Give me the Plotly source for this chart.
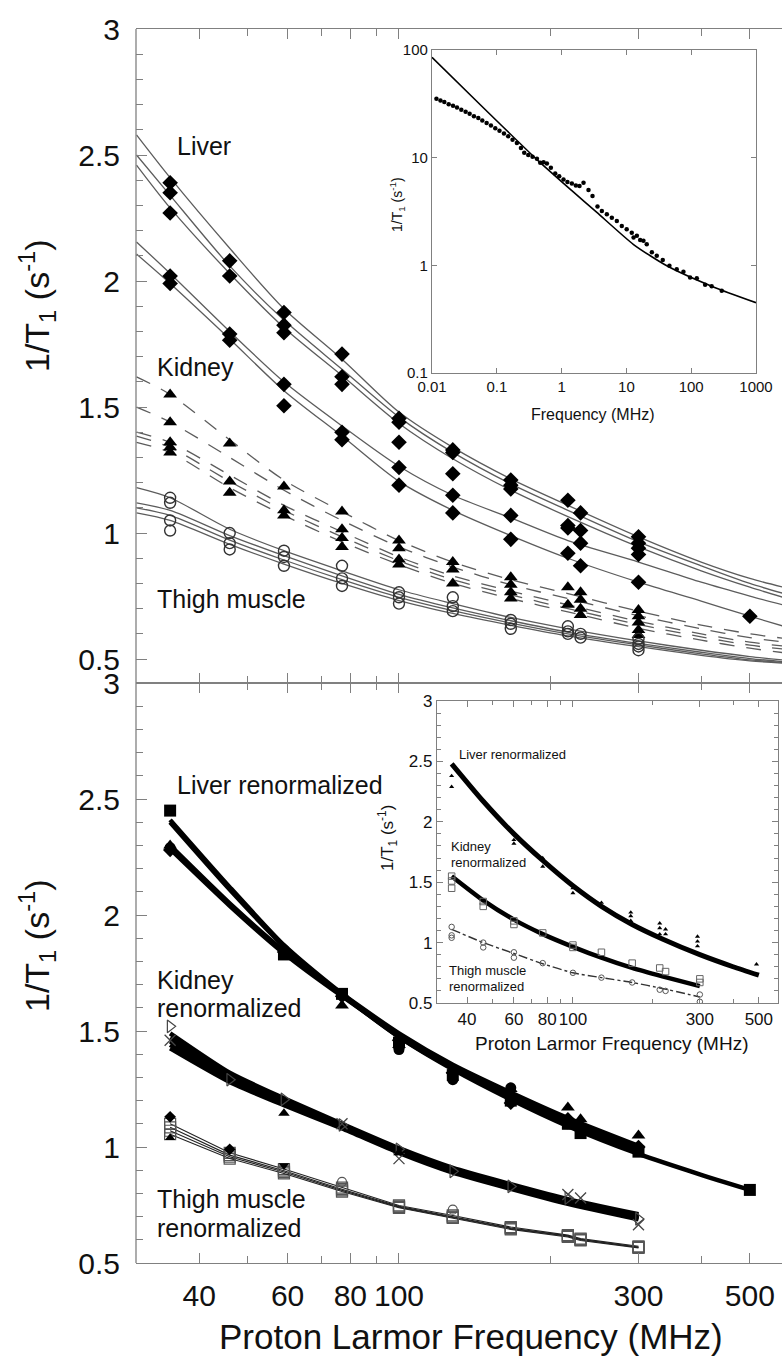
import math
import plotly.graph_objects as go

W, H = 782, 1357

# ---------------- upper panel: measured 1/T1 of tissues ----------------
FIT_F = [30, 35, 46, 59, 77, 100, 128, 167, 217, 300, 400, 500, 580]

LIVER_FIT_1 = [2.58, 2.41, 2.13, 1.89, 1.69, 1.48, 1.34, 1.215, 1.11, 0.985, 0.885, 0.82, 0.786]
LIVER_FIT_2 = [2.50, 2.34, 2.06, 1.845, 1.65, 1.46, 1.32, 1.195, 1.09, 0.965, 0.87, 0.80, 0.762]
LIVER_FIT_3 = [2.46, 2.29, 2.03, 1.815, 1.625, 1.435, 1.295, 1.17, 1.065, 0.945, 0.85, 0.785, 0.746]
LIVER_FIT_4 = [2.155, 2.03, 1.80, 1.60, 1.425, 1.265, 1.15, 1.06, 0.97, 0.885, 0.805, 0.75, 0.716]
LIVER_FIT_5 = [2.107, 1.99, 1.77, 1.565, 1.385, 1.205, 1.09, 0.99, 0.90, 0.805, 0.73, 0.67, 0.632]

KIDNEY_FIT_1 = [1.62, 1.55, 1.37, 1.21, 1.085, 0.97, 0.885, 0.815, 0.76, 0.69, 0.635, 0.60, 0.583]
KIDNEY_FIT_2 = [1.50, 1.44, 1.30, 1.17, 1.05, 0.945, 0.865, 0.795, 0.74, 0.672, 0.62, 0.585, 0.568]
KIDNEY_FIT_3 = [1.40, 1.36, 1.23, 1.11, 1.005, 0.905, 0.83, 0.77, 0.715, 0.65, 0.60, 0.567, 0.552]
KIDNEY_FIT_4 = [1.385, 1.34, 1.205, 1.09, 0.985, 0.89, 0.815, 0.755, 0.70, 0.637, 0.588, 0.555, 0.54]
KIDNEY_FIT_5 = [1.36, 1.32, 1.18, 1.07, 0.965, 0.875, 0.80, 0.74, 0.687, 0.622, 0.575, 0.543, 0.526]

THIGH_FIT_1 = [1.18, 1.14, 1.015, 0.93, 0.85, 0.775, 0.72, 0.665, 0.62, 0.572, 0.535, 0.51, 0.497]
THIGH_FIT_2 = [1.12, 1.09, 0.99, 0.91, 0.83, 0.757, 0.703, 0.652, 0.607, 0.562, 0.527, 0.502, 0.49]
THIGH_FIT_3 = [1.10, 1.07, 0.972, 0.893, 0.815, 0.745, 0.692, 0.643, 0.60, 0.556, 0.521, 0.497, 0.487]
THIGH_FIT_4 = [1.08, 1.05, 0.955, 0.877, 0.80, 0.732, 0.681, 0.634, 0.592, 0.549, 0.515, 0.493, 0.484]

LIVER_F = [35] * 5 + [46] * 4 + [59] * 5 + [77] * 5 + [100] * 5 + [128] * 5 + [167] * 5 + [217] * 4 + [230] * 4 + [300] * 5 + [500]
LIVER_R1 = [2.39, 2.35, 2.27, 2.02, 1.99,
            2.08, 2.02, 1.79, 1.765,
            1.875, 1.825, 1.795, 1.59, 1.505,
            1.71, 1.62, 1.59, 1.40, 1.37,
            1.455, 1.44, 1.36, 1.26, 1.19,
            1.33, 1.32, 1.235, 1.15, 1.08,
            1.21, 1.19, 1.175, 1.07, 0.975,
            1.13, 1.03, 1.02, 0.92,
            1.08, 1.01, 0.96, 0.87,
            0.985, 0.96, 0.94, 0.915, 0.805,
            0.67]

KIDNEY_F = [35] * 5 + [46] * 3 + [59] * 3 + [77] * 4 + [100] * 4 + [128] * 3 + [167] * 4 + [217] * 2 + [230] * 4 + [300] * 5
KIDNEY_R1 = [1.55, 1.44, 1.36, 1.34, 1.32,
             1.355, 1.205, 1.16,
             1.185, 1.09, 1.07,
             1.085, 1.015, 0.98, 0.945,
             0.97, 0.94, 0.895, 0.875,
             0.885, 0.855, 0.80,
             0.825, 0.795, 0.765, 0.74,
             0.785, 0.715,
             0.765, 0.735, 0.70, 0.675,
             0.695, 0.67, 0.645, 0.615, 0.595]

THIGH_F = [35] * 4 + [46] * 3 + [59] * 3 + [77] * 3 + [100] * 3 + [128] * 3 + [167] * 3 + [217] * 3 + [230] * 2 + [300] * 4
THIGH_R1 = [1.14, 1.12, 1.05, 1.01,
            1.0, 0.96, 0.935,
            0.93, 0.905, 0.87,
            0.87, 0.82, 0.79,
            0.765, 0.745, 0.72,
            0.745, 0.71, 0.69,
            0.655, 0.64, 0.62,
            0.63, 0.61, 0.60,
            0.60, 0.585,
            0.58, 0.56, 0.55, 0.535]

# dispersion inset (log-log)
DISP_LINE_F = [0.01, 0.0556, 0.416, 1.44, 3.5, 12.9, 42, 220, 1000]
DISP_LINE_R1 = [85.5, 31.0, 9.6, 4.94, 3.1, 1.56, 0.99, 0.63, 0.45]
DISP_F = [0.0117, 0.0135, 0.0155, 0.0181, 0.0211, 0.0243, 0.0283, 0.033, 0.0381, 0.0444,
          0.0518, 0.0597, 0.0697, 0.0812, 0.0947, 0.110, 0.129, 0.150, 0.175, 0.204,
          0.236, 0.265, 0.306, 0.356, 0.416, 0.468, 0.527, 0.593, 0.683, 0.797,
          0.918, 1.07, 1.23, 1.44, 1.66, 1.89, 2.18, 2.60, 3.00, 3.58,
          4.18, 4.99, 5.96, 7.12, 8.49, 10.1, 12.1, 12.9, 14.5, 16.3,
          18.3, 20.6, 24.7, 29.4, 36.4, 46.1, 59.8, 75.9, 96.1, 122,
          164, 207, 296]
DISP_R1 = [35.2, 34.0, 32.8, 31.4, 30.3, 29.3, 27.9, 26.7, 25.6, 24.2,
           23.3, 22.2, 21.0, 19.9, 18.8, 17.8, 16.8, 15.8, 14.7, 13.7,
           12.3, 11.1, 10.6, 10.2, 9.75, 8.95, 9.08, 8.82, 8.04, 7.13,
           6.73, 6.27, 5.93, 5.76, 5.52, 5.45, 5.84, 5.00, 4.40, 3.51,
           3.19, 2.98, 2.77, 2.58, 2.32, 2.16, 2.01, 1.81, 1.88, 1.72,
           1.69, 1.57, 1.32, 1.23, 1.12, 0.99, 0.92, 0.87, 0.77, 0.76,
           0.66, 0.64, 0.58]

# ---------------- lower panel: renormalized rates ----------------
REN_F = [35, 46, 59, 77, 100, 128, 167, 217, 300, 400, 500]
LIVER_REN_FIT_1 = [2.41, 2.12, 1.87, 1.66, 1.475, 1.335, 1.205, 1.09, 0.97, 0.88, 0.815]
LIVER_REN_FIT_2 = [2.40, 2.11, 1.865, 1.655, 1.475, 1.34, 1.215, 1.10, 0.98]
LIVER_REN_FIT_3 = [2.30, 2.05, 1.845, 1.66, 1.49, 1.355, 1.235, 1.125, 1.005]
LIVER_REN_FIT_4 = [2.285, 2.04, 1.835, 1.65, 1.485, 1.35, 1.23, 1.115, 0.995]

KIDNEY_REN_FIT_1 = [1.49, 1.32, 1.21, 1.10, 0.995, 0.91, 0.84, 0.775, 0.71]
KIDNEY_REN_FIT_2 = [1.47, 1.31, 1.20, 1.095, 0.99, 0.905, 0.835, 0.77, 0.703]
KIDNEY_REN_FIT_3 = [1.455, 1.30, 1.195, 1.09, 0.985, 0.90, 0.83, 0.765, 0.697]
KIDNEY_REN_FIT_4 = [1.44, 1.29, 1.19, 1.085, 0.98, 0.895, 0.825, 0.76, 0.692]
KIDNEY_REN_FIT_5 = [1.425, 1.28, 1.18, 1.08, 0.975, 0.89, 0.82, 0.755, 0.688]

THIGH_REN_F = [35, 46, 59, 77, 100, 128, 167, 217, 230, 300]
THIGH_REN_1 = [1.10, 0.975, 0.905, 0.825, 0.748, 0.705, 0.655, 0.62, 0.605, 0.572]
THIGH_REN_2 = [1.085, 0.965, 0.898, 0.818, 0.744, 0.70, 0.651, 0.617, 0.602, 0.569]
THIGH_REN_3 = [1.07, 0.958, 0.892, 0.813, 0.741, 0.697, 0.648, 0.615, 0.60, 0.567]
THIGH_REN_4 = [1.055, 0.95, 0.886, 0.808, 0.738, 0.694, 0.645, 0.612, 0.597, 0.565]

LREN_SQ_F = [35, 59, 77, 100, 128, 167, 217, 230, 300, 500]
LREN_SQ_R1 = [2.45, 1.83, 1.66, 1.45, 1.31, 1.20, 1.10, 1.06, 0.98, 0.815]
LREN_TRI_F = [35, 77, 100, 128, 167, 217, 230, 300]
LREN_TRI_R1 = [2.30, 1.61, 1.44, 1.33, 1.25, 1.17, 1.12, 1.05]
LREN_CIR_F = [35, 59, 77, 100, 128, 167, 217, 300]
LREN_CIR_R1 = [2.29, 1.85, 1.66, 1.42, 1.29, 1.255, 1.10, 0.99]
LREN_DIA_F = [35, 59, 77, 100, 128, 167, 217, 230, 300]
LREN_DIA_R1 = [2.28, 1.84, 1.65, 1.46, 1.32, 1.19, 1.12, 1.08, 1.0]

KREN_TRI_F = [35, 46, 59, 77, 100, 128, 167, 217, 300]
KREN_TRI_R1 = [1.52, 1.29, 1.205, 1.095, 0.99, 0.895, 0.83, 0.78, 0.69]
KREN_X_F = [35, 77, 100, 217, 230, 300]
KREN_X_R1 = [1.46, 1.10, 0.95, 0.795, 0.78, 0.665]
KREN_FILL_F = [59, 100]
KREN_FILL_R1 = [1.145, 0.975]

TREN_DIA_F = [35, 46]
TREN_DIA_R1 = [1.13, 0.99]
TREN_TRI_F = [35]
TREN_TRI_R1 = [1.04]
TREN_TDN_F = [59]
TREN_TDN_R1 = [0.92]
TREN_CIR_F = [77, 128]
TREN_CIR_R1 = [0.85, 0.73]

# renormalized inset
INS_F = [35, 46, 60, 77, 100, 128, 167, 217, 300, 400, 500]
INS_LIVER = [2.48, 2.17, 1.90, 1.68, 1.47, 1.30, 1.15, 1.03, 0.90, 0.80, 0.73]
INS_KIDNEY = [1.55, 1.35, 1.19, 1.07, 0.965, 0.875, 0.79, 0.72, 0.64]
INS_THIGH = [1.11, 1.0, 0.91, 0.825, 0.75, 0.71, 0.67, 0.62, 0.55]
INS_LIVER_PTS_F = [35, 35, 60, 60, 77, 77, 100, 100, 128, 165, 165, 165, 212, 212, 212, 223, 223, 294, 294, 294, 490]
INS_LIVER_PTS_R1 = [2.38, 2.29, 1.85, 1.82, 1.70, 1.63, 1.45, 1.41, 1.33, 1.25, 1.22, 1.18, 1.16, 1.12, 1.07, 1.11, 1.07, 1.05, 1.01, 0.97, 0.82]
INS_KIDNEY_PTS_F = [35, 35, 35, 46, 46, 60, 60, 77, 100, 100, 128, 167, 212, 223, 300, 300]
INS_KIDNEY_PTS_R1 = [1.55, 1.51, 1.45, 1.34, 1.30, 1.18, 1.15, 1.08, 0.98, 0.96, 0.92, 0.83, 0.79, 0.76, 0.70, 0.67]
INS_THIGH_PTS_F = [35, 35, 35, 46, 46, 60, 60, 77, 100, 128, 167, 212, 223, 300, 300]
INS_THIGH_PTS_R1 = [1.13, 1.06, 1.04, 1.0, 0.96, 0.92, 0.875, 0.83, 0.75, 0.71, 0.67, 0.61, 0.60, 0.57, 0.51]

MAIN_TICKS = [40, 60, 80, 100, 300, 500]
MAIN_MINOR = [50, 70, 90, 200, 400]


def px(x):
    return x / W


def py(y):
    return 1 - y / H


fig = go.Figure()


def add(trace, ax):
    trace.update(xaxis="x" + ax, yaxis="y" + ax, showlegend=False, hoverinfo="skip")
    fig.add_trace(trace)


GREY_LINE = "#5c5c5c"

# upper panel curves
for ys in [LIVER_FIT_1, LIVER_FIT_2, LIVER_FIT_3, LIVER_FIT_4, LIVER_FIT_5,
           THIGH_FIT_1, THIGH_FIT_2, THIGH_FIT_3, THIGH_FIT_4]:
    add(go.Scatter(x=FIT_F, y=ys, mode="lines",
                   line=dict(color=GREY_LINE, width=1.3, shape="spline", smoothing=0.8)), "")
for ys in [KIDNEY_FIT_1, KIDNEY_FIT_2, KIDNEY_FIT_3, KIDNEY_FIT_4, KIDNEY_FIT_5]:
    add(go.Scatter(x=FIT_F, y=ys, mode="lines",
                   line=dict(color=GREY_LINE, width=1.3, dash="15px,12px", shape="spline", smoothing=0.8)), "")

add(go.Scatter(x=LIVER_F, y=LIVER_R1, mode="markers",
               marker=dict(symbol="diamond", size=12, color="black")), "")
add(go.Scatter(x=KIDNEY_F, y=KIDNEY_R1, mode="markers",
               marker=dict(symbol="triangle-up", size=12, color="black")), "")
add(go.Scatter(x=THIGH_F, y=THIGH_R1, mode="markers",
               marker=dict(symbol="circle-open", size=11, color="#333", line=dict(width=1.4))), "")

# lower panel curves
for ys in [LIVER_REN_FIT_1, LIVER_REN_FIT_2, LIVER_REN_FIT_3, LIVER_REN_FIT_4,
           KIDNEY_REN_FIT_1, KIDNEY_REN_FIT_2, KIDNEY_REN_FIT_3, KIDNEY_REN_FIT_4, KIDNEY_REN_FIT_5]:
    add(go.Scatter(x=REN_F[:len(ys)], y=ys, mode="lines",
                   line=dict(color="black", width=4.5, shape="spline", smoothing=0.6)), "2")
for ys in [THIGH_REN_1, THIGH_REN_2, THIGH_REN_3, THIGH_REN_4]:
    add(go.Scatter(x=THIGH_REN_F, y=ys, mode="lines+markers",
                   line=dict(color="#222", width=1.1),
                   marker=dict(symbol="square-open", size=11, color="#555", line=dict(width=1.2))), "2")

add(go.Scatter(x=LREN_SQ_F, y=LREN_SQ_R1, mode="markers",
               marker=dict(symbol="square", size=12, color="black")), "2")
add(go.Scatter(x=LREN_TRI_F, y=LREN_TRI_R1, mode="markers",
               marker=dict(symbol="triangle-up", size=12, color="black")), "2")
add(go.Scatter(x=LREN_CIR_F, y=LREN_CIR_R1, mode="markers",
               marker=dict(symbol="circle", size=11, color="black")), "2")
add(go.Scatter(x=LREN_DIA_F, y=LREN_DIA_R1, mode="markers",
               marker=dict(symbol="diamond", size=11, color="black")), "2")
add(go.Scatter(x=KREN_TRI_F, y=KREN_TRI_R1, mode="markers",
               marker=dict(symbol="triangle-right-open", size=11, color="#444", line=dict(width=1.2))), "2")
add(go.Scatter(x=KREN_X_F, y=KREN_X_R1, mode="markers",
               marker=dict(symbol="x-thin-open", size=11, color="#444", line=dict(width=1.3))), "2")
add(go.Scatter(x=KREN_FILL_F, y=KREN_FILL_R1, mode="markers",
               marker=dict(symbol="triangle-up", size=10, color="black")), "2")
add(go.Scatter(x=TREN_DIA_F, y=TREN_DIA_R1, mode="markers",
               marker=dict(symbol="diamond", size=9, color="black")), "2")
add(go.Scatter(x=TREN_TRI_F, y=TREN_TRI_R1, mode="markers",
               marker=dict(symbol="triangle-up", size=9, color="black")), "2")
add(go.Scatter(x=TREN_TDN_F, y=TREN_TDN_R1, mode="markers",
               marker=dict(symbol="triangle-down", size=9, color="black")), "2")
add(go.Scatter(x=TREN_CIR_F, y=TREN_CIR_R1, mode="markers",
               marker=dict(symbol="circle-open", size=9, color="#555", line=dict(width=1.2))), "2")

# dispersion inset
add(go.Scatter(x=DISP_LINE_F, y=DISP_LINE_R1, mode="lines",
               line=dict(color="black", width=1.6, shape="spline", smoothing=0.6)), "3")
add(go.Scatter(x=DISP_F, y=DISP_R1, mode="markers",
               marker=dict(symbol="circle", size=4.5, color="black")), "3")

# renormalized inset
add(go.Scatter(x=INS_F, y=INS_LIVER, mode="lines",
               line=dict(color="black", width=5, shape="spline", smoothing=0.6)), "4")
add(go.Scatter(x=INS_F[:len(INS_KIDNEY)], y=INS_KIDNEY, mode="lines",
               line=dict(color="black", width=4.5, shape="spline", smoothing=0.6)), "4")
add(go.Scatter(x=INS_F[:len(INS_THIGH)], y=INS_THIGH, mode="lines",
               line=dict(color="#333", width=1.4, dash="dashdot", shape="spline", smoothing=0.6)), "4")
add(go.Scatter(x=INS_LIVER_PTS_F, y=INS_LIVER_PTS_R1, mode="markers",
               marker=dict(symbol="triangle-up", size=4.5, color="black")), "4")
add(go.Scatter(x=INS_KIDNEY_PTS_F, y=INS_KIDNEY_PTS_R1, mode="markers",
               marker=dict(symbol="square-open", size=6.5, color="#666", line=dict(width=1))), "4")
add(go.Scatter(x=INS_THIGH_PTS_F, y=INS_THIGH_PTS_R1, mode="markers",
               marker=dict(symbol="circle-open", size=5.5, color="#555", line=dict(width=1))), "4")

AX_COL = "#808080"
FONT = "Arial, Liberation Sans, Helvetica, sans-serif"
TXT = "#111"

main_x = dict(type="log", range=[math.log10(29.93), 2.763], domain=[px(136), 1], automargin=False,
              showgrid=False, zeroline=False, showline=True, linecolor=AX_COL, linewidth=1.3,
              mirror="ticks", ticks="inside", ticklen=10, tickwidth=1.2, tickcolor=AX_COL, tickangle=0,
              tickvals=MAIN_TICKS, ticktext=[str(v) for v in MAIN_TICKS],
              minor=dict(tickvals=MAIN_MINOR, ticks="inside", ticklen=7, tickwidth=1.2, tickcolor=AX_COL),
              tickfont=dict(family=FONT, size=30, color=TXT))

main_y = dict(showgrid=False, zeroline=False, showline=False, mirror=False, side="left", automargin=False,
              ticks="inside", ticklen=11, tickwidth=1.2, tickcolor=AX_COL,
              tickvals=[0.5, 1, 1.5, 2, 2.5, 3], ticktext=["0.5", "1", "1.5", "2", "2.5", "3"],
              minor=dict(dtick=0.1, ticks="inside", ticklen=7, tickwidth=1.2, tickcolor=AX_COL),
              tickfont=dict(family=FONT, size=30, color=TXT), ticklabelstandoff=15)

inset_common = dict(showgrid=False, zeroline=False, showline=True, linecolor=AX_COL, linewidth=1.2,
                    mirror="ticks", ticks="inside", tickcolor=AX_COL, automargin=False, tickangle=0)

layout = dict(
    template="none",
    width=W, height=H, margin=dict(l=0, r=0, t=0, b=0, pad=0, autoexpand=False),
    paper_bgcolor="white", plot_bgcolor="white", showlegend=False,
    xaxis=dict(main_x, anchor="y", showticklabels=False),
    yaxis=dict(main_y, anchor="x", domain=[py(683), py(29)], range=[0.405, 3.0]),
    xaxis2=dict(main_x, anchor="y2", ticklabelstandoff=6),
    yaxis2=dict(main_y, anchor="x2", domain=[py(1263), py(683)], range=[0.5, 3.0]),
    xaxis3=dict(inset_common, type="log", range=[-2, 3], domain=[px(432), px(756)], anchor="y3",
                ticklen=5,
                tickvals=[0.01, 0.1, 1, 10, 100, 1000], ticktext=["0.01", "0.1", "1", "10", "100", "1000"],
                tickfont=dict(family=FONT, size=15, color=TXT)),
    yaxis3=dict(inset_common, type="log", range=[-1, 2], domain=[py(373), py(50)], anchor="x3",
                ticklen=5,
                tickvals=[0.1, 1, 10, 100], ticktext=["0.1", "1", "10", "100"],
                tickfont=dict(family=FONT, size=15, color=TXT)),
    xaxis4=dict(inset_common, type="log", range=[1.489, 2.771], domain=[px(437), px(778)], anchor="y4",
                ticklen=6,
                tickvals=MAIN_TICKS, ticktext=[str(v) for v in MAIN_TICKS],
                minor=dict(tickvals=MAIN_MINOR, ticks="inside", ticklen=4, tickcolor=AX_COL),
                tickfont=dict(family=FONT, size=17, color=TXT)),
    yaxis4=dict(inset_common, range=[0.5, 3], domain=[py(1003), py(701)], anchor="x4",
                ticklen=6,
                tickvals=[0.5, 1, 1.5, 2, 2.5, 3], ticktext=["0.5", "1", "1.5", "2", "2.5", "3"],
                minor=dict(dtick=0.1, ticks="inside", ticklen=4, tickcolor=AX_COL),
                tickfont=dict(family=FONT, size=17, color=TXT)),
)
fig.update_layout(**layout)

# left frame line of the two stacked panels
fig.add_shape(type="line", xref="paper", yref="paper", x0=px(136), x1=px(136), y0=py(1263), y1=py(29),
              line=dict(color=AX_COL, width=1.3))

YT = "1/T<sub>1</sub> (s<sup>-1</sup>)"


def label(text, x, y, size, anchor="left", angle=0):
    fig.add_annotation(text=text, xref="paper", yref="paper", x=px(x), y=py(y),
                       xanchor=anchor, yanchor="middle", showarrow=False, textangle=angle,
                       font=dict(family=FONT, size=size, color=TXT))


label(YT, 37, 306, 34, "center", -90)
label(YT, 37, 946, 34, "center", -90)
label("Proton Larmor Frequency (MHz)", 471, 1336, 35, "center")

label("Liver", 175, 146, 25)
label("Kidney", 155, 367, 25)
label("Thigh muscle", 155, 599, 25)
label("Liver renormalized", 175, 785, 25)
label("Kidney", 155, 980, 25)
label("renormalized", 155, 1008, 25)
label("Thigh muscle", 155, 1199, 25)
label("renormalized", 155, 1228, 25)

label(YT, 397, 205, 14, "center", -90)
label("Frequency (MHz)", 593, 414, 16, "center")

label(YT, 387, 838, 17, "center", -90)
label("Proton Larmor Frequency (MHz)", 611, 1043, 19, "center")
label("Liver renormalized", 457, 755, 13)
label("Kidney", 449, 846, 13)
label("renormalized", 449, 862, 13)
label("Thigh muscle", 447, 970, 13)
label("renormalized", 447, 986, 13)

fig.write_html("out.html")
